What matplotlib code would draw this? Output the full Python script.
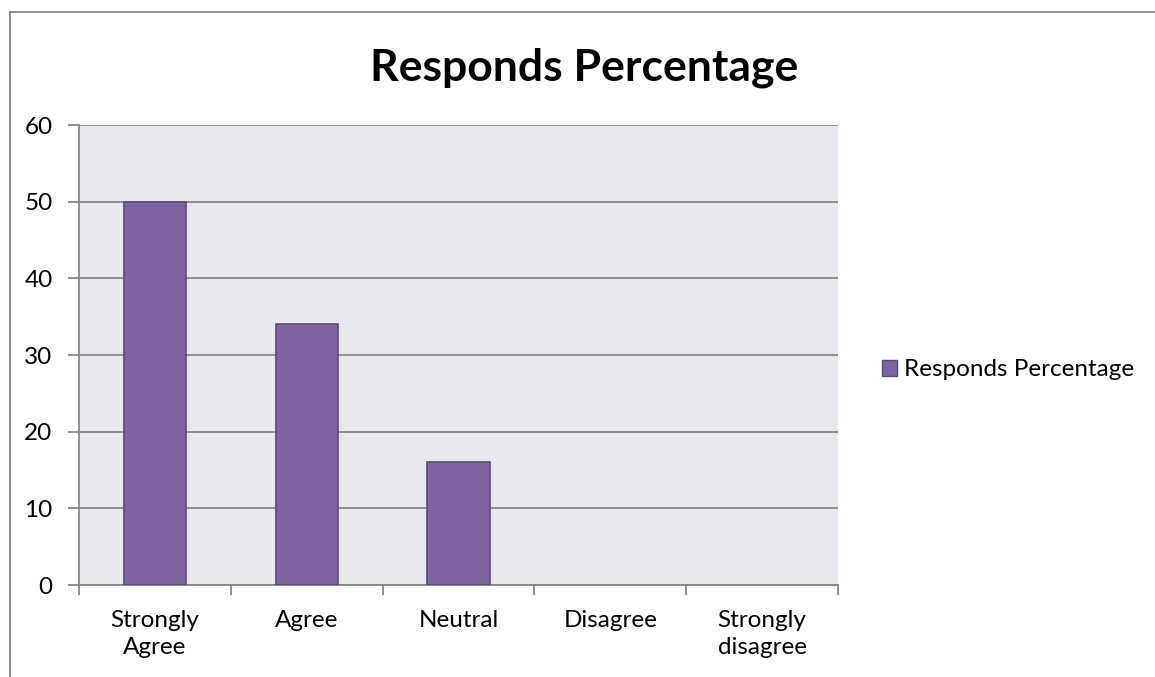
import matplotlib.pyplot as plt
from matplotlib.lines import Line2D
from matplotlib.patches import Patch

categories = ["Strongly\nAgree", "Agree", "Neutral", "Disagree", "Strongly\ndisagree"]
percent = [50, 34, 16, 0, 0]
yticks = [0, 10, 20, 30, 40, 50, 60]

plt.rcParams["font.family"] = ["Lato", "DejaVu Sans"]

W, H = 1155, 677
fig = plt.figure(figsize=(W / 100, H / 100), dpi=100)
ax = fig.add_axes([79 / W, 1 - 585 / H, (838 - 79) / W, (585 - 125) / H])

bar_color = "#8064A2"
edge_color = "#5C4776"
grid_color = "#868686"

ax.set_facecolor("#EAE8EF")
x = range(len(categories))
ax.bar(x, percent, width=0.41, color=bar_color, edgecolor=edge_color,
       linewidth=[1.2 if v > 0 else 0 for v in percent], zorder=3)

ax.set_xlim(-0.5, len(categories) - 0.5)
ax.set_ylim(0, 60)
ax.set_yticks(yticks)
ax.yaxis.grid(True, color=grid_color, linewidth=1.3, zorder=0)
ax.tick_params(axis="y", length=8, width=1.3, color=grid_color, labelsize=17.5, pad=11)

# category labels sit between the boundary tick marks
ax.set_xticks([i - 0.5 for i in range(len(categories) + 1)], minor=False)
ax.set_xticklabels([])
ax.tick_params(axis="x", length=7, width=1.3, color=grid_color, direction="out")
ax.set_xticks(list(x), minor=True)
ax.set_xticklabels(categories, minor=True, fontsize=17.5)
ax.tick_params(axis="x", which="minor", length=0, pad=18)
for lbl in ax.get_xticklabels(minor=True):
    lbl.set_linespacing(1.35)

for side in ["top", "right"]:
    ax.spines[side].set_visible(False)
for side in ["left", "bottom"]:
    ax.spines[side].set_color(grid_color)
    ax.spines[side].set_linewidth(1.3)

fig.text(584 / W, 1 - 68 / H, "Responds Percentage", ha="center", va="center",
         fontsize=32, fontweight="bold")

handle = Patch(facecolor=bar_color, edgecolor=edge_color, linewidth=1)
fig.legend([handle], ["Responds Percentage"], loc="center left",
           bbox_to_anchor=(860 / W, 1 - 370 / H), frameon=False, fontsize=17.5,
           handlelength=0.62, handleheight=0.62, handletextpad=0.3)

# outer chart frame
fig.add_artist(Line2D([10 / W, 10 / W], [0, 1 - 12 / H], color=grid_color, linewidth=1.3))
fig.add_artist(Line2D([10 / W, 1], [1 - 12 / H, 1 - 12 / H], color=grid_color, linewidth=1.3))

fig.savefig("out.png", dpi=100)
